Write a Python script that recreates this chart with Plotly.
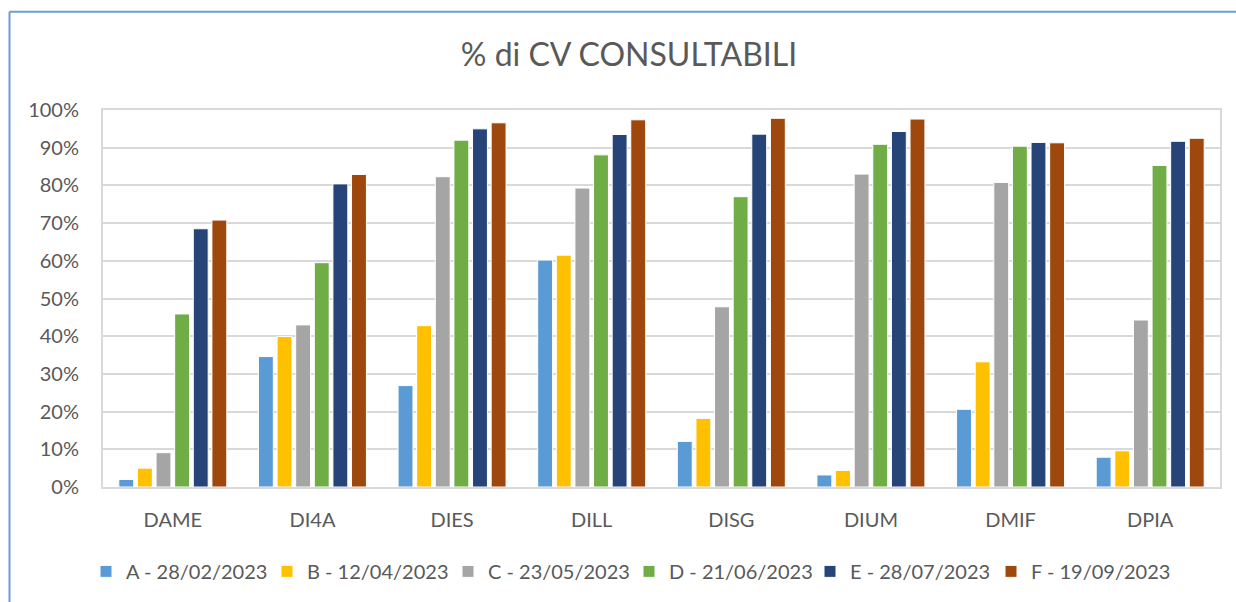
import plotly.graph_objects as go

categories = ["DAME", "DI4A", "DIES", "DILL", "DISG", "DIUM", "DMIF", "DPIA"]
series_names = ["A - 28/02/2023", "B - 12/04/2023", "C - 23/05/2023",
                "D - 21/06/2023", "E - 28/07/2023", "F - 19/09/2023"]
values_A = [0.020, 0.346, 0.269, 0.602, 0.121, 0.032, 0.206, 0.079]
values_B = [0.050, 0.399, 0.428, 0.615, 0.182, 0.044, 0.332, 0.096]
values_C = [0.091, 0.430, 0.823, 0.793, 0.478, 0.830, 0.808, 0.443]
values_D = [0.459, 0.595, 0.920, 0.881, 0.770, 0.909, 0.904, 0.853]
values_E = [0.685, 0.804, 0.950, 0.935, 0.936, 0.943, 0.914, 0.917]
values_F = [0.708, 0.829, 0.966, 0.974, 0.978, 0.976, 0.913, 0.925]
colors = ["#5B9BD5", "#FFC000", "#A5A5A5", "#70AD47", "#264478", "#9E480E"]

all_values = [values_A, values_B, values_C, values_D, values_E, values_F]

FONT = "Lato"
TXT = "#595959"

fig = go.Figure()
for name, vals, col in zip(series_names, all_values, colors):
    fig.add_trace(go.Bar(
        x=categories, y=vals, name=name,
        marker=dict(color=col, line=dict(color="white", width=1)),
    ))

W, H = 1236, 602
L, R, T, B = 103, 16, 110, 114.5
pw = W - L - R
ph = H - T - B

def px_x(p):
    return (p - L) / pw

def px_y(p):
    return (H - B - p) / ph

fig.update_layout(
    width=W, height=H,
    margin=dict(l=L, r=R, t=T, b=B, autoexpand=False),
    paper_bgcolor="white", plot_bgcolor="white",
    barmode="group", bargap=0.2, bargroupgap=0.2,
    font=dict(family=FONT, color=TXT),
    title=dict(text="% di CV CONSULTABILI", x=629 / W, xanchor="center",
               y=1 - 55 / H, yanchor="middle",
               font=dict(family=FONT, size=32, color=TXT)),
    legend=dict(orientation="h", x=px_x(629), xanchor="center",
                y=px_y(572), yanchor="middle",
                font=dict(family=FONT, size=20, color=TXT),
                itemwidth=30, traceorder="normal",
                entrywidth=136, entrywidthmode="pixels"),
    xaxis=dict(showgrid=False, showline=True, linecolor="#D9D9D9", linewidth=2,
               mirror=True, ticks="", tickfont=dict(family=FONT, size=20, color=TXT),
               ticklabelstandoff=14),
    yaxis=dict(range=[0, 1], dtick=0.1, tickformat=".0%", showgrid=True,
               gridcolor="#D9D9D9", gridwidth=2, showline=True, linecolor="#D9D9D9",
               linewidth=2, mirror=True, zeroline=False, ticks="",
               tickfont=dict(family=FONT, size=20, color=TXT), ticklabelstandoff=18),
    shapes=[
        dict(type="line", xref="paper", yref="paper", x0=px_x(9.5), x1=px_x(W + 5),
             y0=px_y(11.5), y1=px_y(11.5), line=dict(color="#6F9BD1", width=2)),
        dict(type="line", xref="paper", yref="paper", x0=px_x(9.5), x1=px_x(9.5),
             y0=px_y(11.5), y1=px_y(H + 5), line=dict(color="#6F9BD1", width=2)),
    ],
)

fig.write_html("out.html", config={"displayModeBar": False},
               post_script="document.body.style.margin='0';document.body.style.overflow='hidden';")
